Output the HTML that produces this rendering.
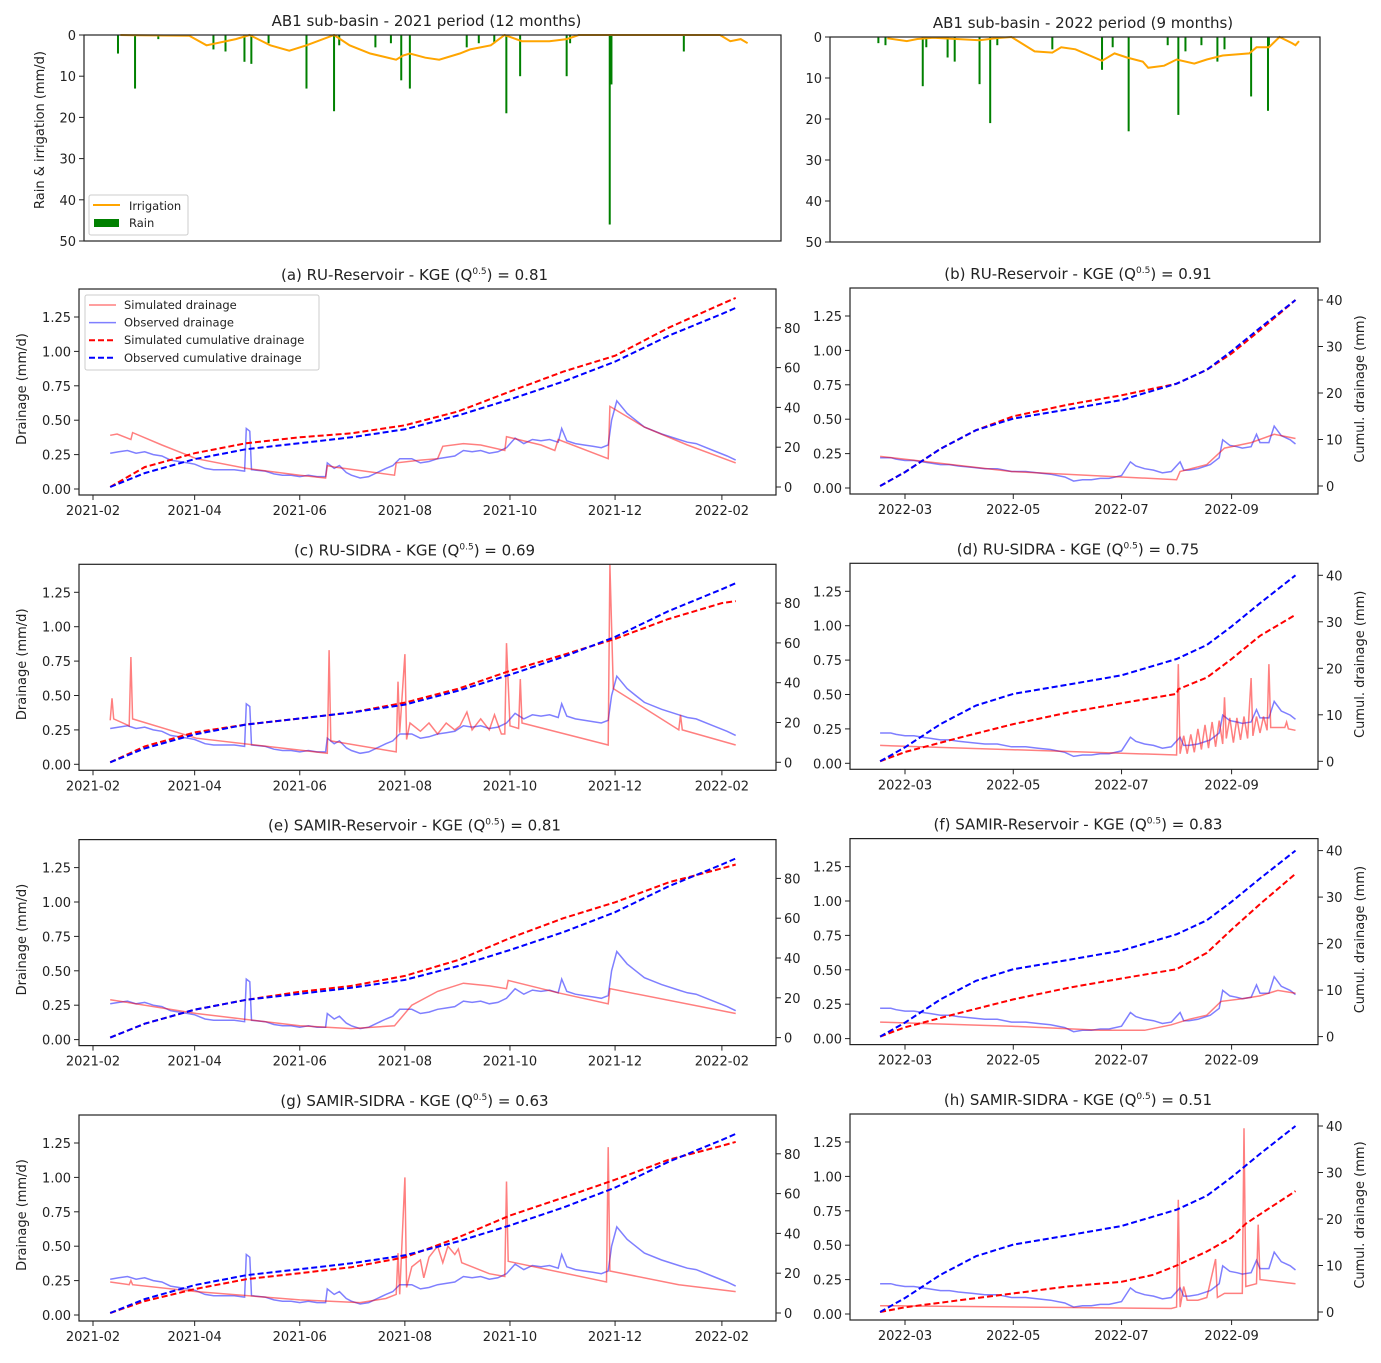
<!DOCTYPE html>
<html><head><meta charset="utf-8"><style>
body{margin:0;background:#fff}
svg text{font-family:"DejaVu Sans","Liberation Sans",sans-serif;fill:#222}
</style></head><body>
<svg id="fig" width="1381" height="1358" viewBox="0 0 1381 1358" xmlns="http://www.w3.org/2000/svg"></svg>
<script>
// ---------- DATA (left: days since 2021-02-01, right: days since 2022-03-01) ----------
const rainLDays=[11.6,21.5,35,67,74,85,89,99,121,137,140,161,170,176,181,214,221,230,237,245,272,274,297,298,340];
const rainLVals=[4.5,13,1,3.5,4,6.5,7,2,13,18.5,2.5,3,2,11,13,3,2,2,19,10,10,2,46,12,4];
const irrLDays=[13,53,63,80,88,100,111,121,137,146,158,173,177,181,190,198,210,216,228,236,246,262,272,279,361,367,373,377];
const irrLVals=[0,0.2,2.5,1,0,2.5,3.8,2.5,0,2.5,4.5,6,5,4.5,5.5,6,4.5,3.5,2.5,0,1.5,1.5,1,0,0,1.5,1,2];
const rainRDays=[-15,-11,10,12,24,28,42,48,52,83,111,117,126,148,154,158,167,176,180,195,204.5,205];
const rainRVals=[1.5,2,12,2.5,5,6,11.5,21,2,3,8,2.5,23,2,19,3.5,2,6,3,14.5,18,2];
const irrRDays=[-10,1,7,16,42,51,60,73,83,88,96,111,118,125,134,137,146,153,163,170,179,194,198,205,211,218,220,222];
const irrRVals=[0.3,1,0.5,0.2,0.8,0.3,0,3.5,3.8,2.5,3,5.8,4,5,6,7.5,7,5.5,6.5,5.5,4.5,4,2.5,2.5,0,1.5,2,1];

const obsDrainLDays=[10,15,20,25,30,35,40,45,50,55,59,65,70,75,82,88,89,91,92,100,105,110,115,120,125,130,135,136,140,143,147,150,155,160,165,170,174,178,185,190,195,200,205,210,215,220,225,230,235,240,245,250,255,260,265,270,272,275,280,285,290,295,299,301,304,310,315,320,330,340,345,350,360,368,373];
const obsDrainLVals=[0.26,0.27,0.28,0.26,0.27,0.25,0.24,0.21,0.20,0.19,0.18,0.15,0.14,0.14,0.14,0.13,0.44,0.42,0.14,0.13,0.11,0.10,0.10,0.09,0.10,0.09,0.09,0.19,0.15,0.17,0.12,0.10,0.08,0.09,0.12,0.15,0.17,0.22,0.22,0.19,0.20,0.22,0.23,0.24,0.28,0.27,0.28,0.26,0.27,0.30,0.37,0.33,0.36,0.35,0.36,0.34,0.44,0.35,0.33,0.32,0.31,0.30,0.32,0.50,0.64,0.55,0.50,0.45,0.40,0.36,0.34,0.33,0.28,0.24,0.21];
const obsCumLDays=[10,30,59,89,120,150,181,212,242,273,303,334,365,373];
const obsCumLVals=[0,7,14,19,22,25,29,36,44,53,63,76,87,90];
const obsDrainRDays=[-14,-8,-5,0,5,10,15,20,25,30,38,45,52,60,68,75,82,90,95,100,105,110,115,122,127,130,135,140,145,150,155,157,160,165,172,177,179,183,187,190,195,198,200,205,208,212,217,220];
const obsDrainRVals=[0.22,0.22,0.21,0.20,0.20,0.19,0.18,0.17,0.17,0.16,0.15,0.14,0.14,0.12,0.12,0.11,0.10,0.08,0.05,0.06,0.06,0.07,0.07,0.09,0.19,0.16,0.14,0.13,0.11,0.12,0.19,0.13,0.13,0.14,0.17,0.22,0.35,0.31,0.30,0.29,0.30,0.39,0.33,0.33,0.45,0.38,0.35,0.32];
const obsCumRDays=[-14,0,20,40,61,92,122,153,170,184,200,220];
const obsCumRVals=[0,3,8,12,14.5,16.5,18.5,22,25,29,34,40];

const simADays=[10,14,22,23,40,60,89,120,135,136,140,175,176,190,200,203,215,225,239,240,260,268,270,299,300,320,345,373];
const simAVals=[0.39,0.40,0.36,0.41,0.32,0.22,0.15,0.10,0.08,0.17,0.16,0.10,0.19,0.21,0.22,0.31,0.33,0.32,0.28,0.38,0.32,0.28,0.36,0.22,0.60,0.45,0.32,0.19];
const simACumDays=[10,30,59,89,120,150,181,212,242,273,303,334,365,373];
const simACumVals=[0,10,17,22,25,27,31,38,48,58,66,80,92,95];
const simCDays=[10,11,12,21,22,23,60,136,137,138,176,177,178,181,182,184,190,195,200,205,210,213,217,220,225,230,233,237,239,240,242,247,248,249,299,300,302,340,341,342,373];
const simCVals=[0.32,0.48,0.33,0.28,0.78,0.33,0.19,0.08,0.83,0.17,0.09,0.60,0.23,0.80,0.18,0.30,0.24,0.30,0.22,0.30,0.25,0.28,0.38,0.25,0.33,0.25,0.36,0.22,0.22,0.88,0.28,0.26,0.62,0.30,0.14,1.45,0.55,0.25,0.36,0.25,0.14];
const simCCumDays=[10,30,59,89,120,150,181,212,242,273,303,334,365,373];
const simCCumVals=[0,8,15,19,22,25,30,37,46,54,62,72,80,81];
const simEDays=[10,60,120,150,175,185,200,215,230,240,241,270,299,300,373];
const simEVals=[0.29,0.19,0.10,0.08,0.10,0.25,0.35,0.41,0.39,0.37,0.43,0.34,0.26,0.37,0.19];
const simECumDays=[10,30,59,89,120,150,181,212,242,273,303,334,365,373];
const simECumVals=[0,7,14,19,23,26,31,39,50,60,68,78,85,87];
const simGDays=[10,21,22,23,60,120,155,170,176,177,178,181,182,185,190,192,195,200,203,206,210,212,214,220,230,239,240,241,298,299,300,340,373];
const simGVals=[0.24,0.22,0.25,0.22,0.17,0.11,0.09,0.12,0.15,0.45,0.15,1.00,0.20,0.35,0.40,0.27,0.42,0.50,0.38,0.50,0.44,0.48,0.38,0.35,0.30,0.28,0.97,0.39,0.24,1.22,0.32,0.22,0.17];
const simGCumDays=[10,30,59,89,120,150,181,212,242,273,303,334,365,373];
const simGCumVals=[0,6,12,17,20,23,28,38,49,58,67,77,84,86];

const simBDays=[-14,60,153,155,170,180,195,208,220];
const simBVals=[0.23,0.12,0.06,0.12,0.17,0.29,0.33,0.39,0.36];
const simBCumDays=[-14,0,20,40,61,92,122,153,170,184,200,220];
const simBCumVals=[0,3,8,12,15,17.5,19.5,22,25,28.5,33.5,40];
const simDDays=[-14,153,154,155,157,159,161,163,165,167,169,171,173,175,177,179,180,181,183,185,187,189,191,193,195,196,198,200,202,204,205,206,214,215,216,220];
const simDVals=[0.13,0.06,0.72,0.07,0.20,0.07,0.21,0.08,0.25,0.10,0.28,0.11,0.30,0.12,0.31,0.14,0.48,0.18,0.33,0.15,0.33,0.17,0.34,0.18,0.62,0.20,0.34,0.22,0.34,0.24,0.72,0.26,0.26,0.30,0.25,0.24];
const simDCumDays=[-14,0,30,61,92,122,153,154,170,184,200,220];
const simDCumVals=[0,2,5,8,10.5,12.5,14.5,15.5,18,22,27,31.5];
const simFDays=[-14,60,110,135,150,160,170,178,190,200,210,220];
const simFVals=[0.12,0.09,0.06,0.06,0.10,0.14,0.17,0.27,0.29,0.31,0.35,0.33];
const simFCumDays=[-14,0,30,61,92,122,153,170,184,200,220];
const simFCumVals=[0,2,5,8,10.5,12.5,14.5,18,23,28.5,35];
const simHDays=[-14,150,153,154,155,157,159,165,170,175,176,180,190,191,192,198,199,200,220];
const simHVals=[0.06,0.04,0.05,0.83,0.05,0.20,0.10,0.10,0.12,0.40,0.12,0.15,0.15,1.35,0.20,0.22,0.65,0.25,0.22];
const simHCumDays=[-14,0,30,61,92,122,140,153,170,184,192,200,220];
const simHCumVals=[0,1,2.5,4,5.5,6.5,8,10,13,16,19,21,26];

const leftTickDays=[0,59,120,181,242,303,365];
const leftTickLabels=["2021-02","2021-04","2021-06","2021-08","2021-10","2021-12","2022-02"];
const rightTickDays=[0,61,122,184];
const rightTickLabels=["2022-03","2022-05","2022-07","2022-09"];
const drainTicks=[0,0.25,0.5,0.75,1.0,1.25];
const drainTickLabels=["0.00","0.25","0.50","0.75","1.00","1.25"];
const cumTicksL=[0,20,40,60,80];
const cumTicksR=[0,10,20,30,40];
const rainTicks=[0,10,20,30,40,50];
</script>
<script>
const svg=document.getElementById('fig');
const NS='http://www.w3.org/2000/svg';
function mk(tag,attrs,parent){const e=document.createElementNS(NS,tag);for(const k in attrs)e.setAttribute(k,attrs[k]);(parent||svg).appendChild(e);return e;}
function txt(s,x,y,anchor,size,parent,rot){const t=mk('text',{x:x,y:y,'text-anchor':anchor||'middle','font-size':size||13},parent);t.textContent=s;if(rot)t.setAttribute('transform','rotate(-90 '+x+' '+y+')');return t;}
function poly(days,vals,fx,fy,style,parent){
  let d='';for(let i=0;i<days.length;i++){d+=(i?'L':'M')+fx(days[i]).toFixed(1)+','+fy(vals[i]).toFixed(1);}
  const p=mk('path',Object.assign({d:d,fill:'none'},style),parent);return p;}
function title(x,y,prefix,val,parent){
  const t=mk('text',{x:x,y:y,'text-anchor':'middle','font-size':15},parent);
  t.appendChild(document.createTextNode(prefix+' - KGE (Q'));
  const s=document.createElementNS(NS,'tspan');s.setAttribute('font-size','9');s.setAttribute('dy','-6');s.textContent='0.5';t.appendChild(s);
  const s2=document.createElementNS(NS,'tspan');s2.setAttribute('dy','6');s2.textContent=') = '+val;t.appendChild(s2);
  return t;}

// ---------- rain panels ----------
function rainPanel(o){
  const g=mk('g',{});
  
  
  const fy=v=>o.top+v*(o.bottom-o.top)/50;
  const fx=o.fx;
  txt(o.title,(o.left+o.right)/2+o.tdx,o.top-9,'middle',15,g);
  const bars=mk('g',{},g);
  
  
  for(let i=0;i<o.rd.length;i++){
    const r=mk('rect',{x:fx(o.rd[i])-1,y:o.top,width:2,height:fy(o.rv[i])-o.top,fill:'#008000'},bars);
    
    
  }
  const ir=poly(o.id,o.iv,fx,fy,{stroke:'#ffa500','stroke-width':2},g);
  
  
  mk('rect',{x:o.left,y:o.top,width:o.right-o.left,height:o.bottom-o.top,fill:'none',stroke:'#222','stroke-width':1.2},g);
  rainTicks.forEach(v=>{const y=fy(v);mk('line',{x1:o.left-5,x2:o.left,y1:y,y2:y,stroke:'#222'},g);txt(String(v),o.left-8,y+5,'end',13,g);});
  return g;}
rainPanel({name:'rain-panel-2021',title:'AB1 sub-basin - 2021 period (12 months)',tdx:-6,left:84,right:781,top:35,bottom:241,fx:d=>98+d*1.723,rd:rainLDays,rv:rainLVals,id:irrLDays,iv:irrLVals});
rainPanel({name:'rain-panel-2022',title:'AB1 sub-basin - 2022 period (9 months)',tdx:8,left:830,right:1320,top:37,bottom:242,fx:d=>905+d*1.775,rd:rainRDays,rv:rainRVals,id:irrRDays,iv:irrRVals});
const yl=txt('Rain & irrigation (mm/d)',44,130,'middle',13,null,true);

// rain legend
{const lg=mk('g',{});
 mk('rect',{x:89,y:195,width:99,height:40,fill:'#fff',stroke:'#ccc',rx:2},lg);
 mk('line',{x1:93,x2:120,y1:205,y2:205,stroke:'#ffa500','stroke-width':2},lg);
 mk('rect',{x:94,y:219,width:25,height:8,fill:'#008000'},lg);
 txt('Irrigation',129,210,'start',11.5,lg);txt('Rain',129,227,'start',11.5,lg);}

// ---------- drainage panels ----------
function drainPanel(o){
  const g=mk('g',{});
  
  
  const top=o.top,bottom=top+206,y0=top+200,yc0=top+198;
  const fy=v=>y0-v*137.6;
  const fyc=v=>yc0-v*o.cumScale;
  const fx=o.fx;
  title((o.left+o.right)/2+o.tdx,top-9,o.label,o.kge,g);
  const l1=poly(o.obsD,o.obsV,fx,fy,{stroke:'rgba(0,0,255,0.5)','stroke-width':1.5},g);
  
  const l2=poly(o.simD,o.simV,fx,fy,{stroke:'rgba(255,0,0,0.5)','stroke-width':1.5},g);
  
  const l3=poly(o.simCD,o.simCV,fx,fyc,{stroke:'#ff0000','stroke-width':2,'stroke-dasharray':'6,3'},g);
  
  const l4=poly(o.obsCD,o.obsCV,fx,fyc,{stroke:'#0000ff','stroke-width':2,'stroke-dasharray':'6,3'},g);
  
  mk('rect',{x:o.left,y:top,width:o.right-o.left,height:bottom-top,fill:'none',stroke:'#222','stroke-width':1.2},g);
  drainTicks.forEach((v,i)=>{const y=fy(v);mk('line',{x1:o.left-5,x2:o.left,y1:y,y2:y,stroke:'#222'},g);txt(drainTickLabels[i],o.left-8,y+5,'end',13,g);});
  o.cumTicks.forEach(v=>{const y=fyc(v);mk('line',{x1:o.right,x2:o.right+5,y1:y,y2:y,stroke:'#222'},g);txt(String(v),o.right+8,y+5,'start',13,g);});
  o.xt.forEach((d,i)=>{const x=fx(d);mk('line',{x1:x,x2:x,y1:bottom,y2:bottom+5,stroke:'#222'},g);txt(o.xl[i],x,bottom+20,'middle',13,g);});
  return g;}
const rowsTop=[289,564.3,839.6,1115];
const leftPanels=[
 ['panel-a','(a) RU-Reservoir','0.81',simADays,simAVals,simACumDays,simACumVals],
 ['panel-c','(c) RU-SIDRA','0.69',simCDays,simCVals,simCCumDays,simCCumVals],
 ['panel-e','(e) SAMIR-Reservoir','0.81',simEDays,simEVals,simECumDays,simECumVals],
 ['panel-g','(g) SAMIR-SIDRA','0.63',simGDays,simGVals,simGCumDays,simGCumVals]];
const rightPanels=[
 ['panel-b','(b) RU-Reservoir','0.91',simBDays,simBVals,simBCumDays,simBCumVals],
 ['panel-d','(d) RU-SIDRA','0.75',simDDays,simDVals,simDCumDays,simDCumVals],
 ['panel-f','(f) SAMIR-Reservoir','0.83',simFDays,simFVals,simFCumDays,simFCumVals],
 ['panel-h','(h) SAMIR-SIDRA','0.51',simHDays,simHVals,simHCumDays,simHCumVals]];
leftPanels.forEach((p,r)=>{
 drainPanel({name:p[0],label:p[1],kge:p[2],simD:p[3],simV:p[4],simCD:p[5],simCV:p[6],obsD:obsDrainLDays,obsV:obsDrainLVals,obsCD:obsCumLDays,obsCV:obsCumLVals,
  left:79,right:776,tdx:-13,top:rowsTop[r],fx:d=>93+d*1.723,cumScale:1.99,cumTicks:cumTicksL,xt:leftTickDays,xl:leftTickLabels});
 const t=txt('Drainage (mm/d)',26,rowsTop[r]+100,'middle',13,null,true);
 
});
rightPanels.forEach((p,r)=>{
 drainPanel({name:p[0],label:p[1],kge:p[2],simD:p[3],simV:p[4],simCD:p[5],simCV:p[6],obsD:obsDrainRDays,obsV:obsDrainRVals,obsCD:obsCumRDays,obsCV:obsCumRVals,
  left:850,right:1318,tdx:-6,top:rowsTop[r]-1,fx:d=>905+d*1.775,cumScale:4.65,cumTicks:cumTicksR,xt:rightTickDays,xl:rightTickLabels});
 const t=txt('Cumul. drainage (mm)',1364,rowsTop[r]+100,'middle',13,null,true);
 
});
// drainage legend
{const lg=mk('g',{});
 mk('rect',{x:85,y:295,width:234,height:75,fill:'#fff','fill-opacity':0.85,stroke:'#ccc',rx:2},lg);
 const items=[['Simulated drainage','rgba(255,0,0,0.5)',''],['Observed drainage','rgba(0,0,255,0.5)',''],['Simulated cumulative drainage','#ff0000','6,3'],['Observed cumulative drainage','#0000ff','6,3']];
 items.forEach((it,i)=>{const y=305+i*17.6;mk('line',{x1:89,x2:116,y1:y,y2:y,stroke:it[1],'stroke-width':it[2]?2:1.5,'stroke-dasharray':it[2]||'none'},lg);txt(it[0],124,y+4,'start',11.5,lg);});}
</script>
</body></html>
